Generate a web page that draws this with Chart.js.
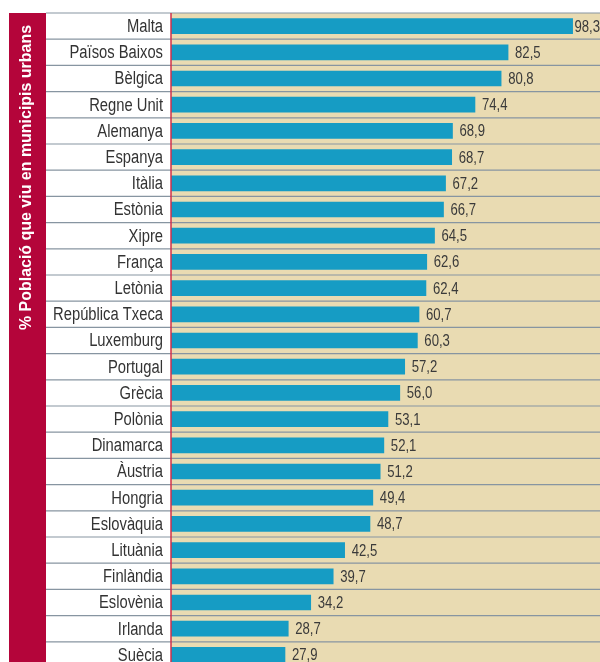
<!DOCTYPE html>
<html>
<head>
<meta charset="utf-8">
<script src="https://cdn.jsdelivr.net/npm/chart.js@4"></script>
<style>
  html, body { margin: 0; padding: 0; background: #fff; overflow: hidden; }
  canvas { display: block; }
</style>
</head>
<body>
<canvas id="urban-chart" width="600" height="670"></canvas>
<script>
// % població urbana per país
const countries = [
    'Malta', 'Països Baixos', 'Bèlgica', 'Regne Unit', 'Alemanya', 'Espanya',
    'Itàlia', 'Estònia', 'Xipre', 'França', 'Letònia', 'República Txeca',
    'Luxemburg', 'Portugal', 'Grècia', 'Polònia', 'Dinamarca', 'Àustria',
    'Hongria', 'Eslovàquia', 'Lituània', 'Finlàndia', 'Eslovènia', 'Irlanda', 'Suècia'
];
const urbanPct = [
    98.3, 82.5, 80.8, 74.4, 68.9, 68.7,
    67.2, 66.7, 64.5, 62.6, 62.4, 60.7,
    60.3, 57.2, 56.0, 53.1, 52.1, 51.2,
    49.4, 48.7, 42.5, 39.7, 34.2, 28.7, 27.9
];
const axisTitle = '% Població que viu en municipis urbans';

const sans = '"Liberation Sans", Arial, sans-serif';
const squeeze = 0.82; // no hi ha lletra estreta instal·lada, comprimim
const crimson = '#b4053a';

// text estret: escalat horitzontal
function narrowText(ctx, txt, x, y, align) {
    const w = ctx.measureText(txt).width * squeeze;
    let left = x;
    if (align === 'right') left = x - w;
    ctx.save();
    ctx.translate(left, y);
    ctx.scale(squeeze, 1);
    ctx.textAlign = 'left';
    ctx.fillText(txt, 0, 0);
    ctx.restore();
    return w;
}

const decorPlugin = {
    id: 'decor',
    beforeDraw(chart) {
        const {ctx, chartArea} = chart;
        ctx.save();
        ctx.fillStyle = '#e9dbb2';
        ctx.fillRect(chartArea.left, chartArea.top, chartArea.right - chartArea.left, chartArea.bottom - chartArea.top);
        ctx.fillStyle = crimson;
        ctx.fillRect(9, chartArea.top, 37, chart.height - chartArea.top);
        ctx.restore();
    },
    beforeDatasetsDraw(chart) {
        const {ctx, chartArea} = chart;
        const yScale = chart.scales.y;
        const n = chart.data.labels.length;
        const step = (chartArea.bottom - chartArea.top) / n;
        ctx.save();
        ctx.strokeStyle = '#8795a1';
        ctx.lineWidth = 1.2;
        for (let i = 0; i <= n; i++) {
            const y = chartArea.top + i * step;
            ctx.beginPath();
            ctx.moveTo(46, y);
            ctx.lineTo(chartArea.right, y);
            ctx.stroke();
        }
        // noms dels països
        ctx.font = '18px ' + sans;
        ctx.fillStyle = '#333';
        ctx.textBaseline = 'middle';
        chart.data.labels.forEach((lab, i) => {
            narrowText(ctx, lab, chartArea.left - 8, yScale.getPixelForTick(i) + 1, 'right');
        });
        ctx.restore();
    },
    afterDatasetsDraw(chart) {
        const {ctx, chartArea} = chart;
        const meta = chart.getDatasetMeta(0);
        ctx.save();
        // valors
        ctx.font = '16px ' + sans;
        ctx.fillStyle = '#3a3a3a';
        ctx.textBaseline = 'middle';
        meta.data.forEach((bar, i) => {
            const txt = chart.data.datasets[0].data[i].toFixed(1).replace('.', ',');
            const w = ctx.measureText(txt).width * squeeze;
            const x = Math.min(bar.x + 7, chartArea.right - w);
            narrowText(ctx, txt, x, bar.y + 1, 'left');
        });
        // línia vertical vermella
        ctx.strokeStyle = '#d0304a';
        ctx.lineWidth = 1.5;
        ctx.beginPath();
        ctx.moveTo(chartArea.left, chartArea.top);
        ctx.lineTo(chartArea.left, chart.height);
        ctx.stroke();
        // títol vertical
        ctx.translate(31, 177.5);
        ctx.rotate(-Math.PI / 2);
        ctx.font = 'bold 17px ' + sans;
        const tw = ctx.measureText(axisTitle).width;
        ctx.scale(305 / tw, 1);
        ctx.fillStyle = '#fff';
        ctx.textAlign = 'center';
        ctx.textBaseline = 'alphabetic';
        ctx.fillText(axisTitle, 0, 0);
        ctx.restore();
    }
};

new Chart(document.getElementById('urban-chart'), {
    type: 'bar',
    data: {
        labels: countries,
        datasets: [{
            data: urbanPct,
            backgroundColor: '#169cc4',
            barThickness: 15
        }]
    },
    options: {
        indexAxis: 'y',
        responsive: false,
        animation: false,
        devicePixelRatio: 1,
        layout: { padding: { top: 13, bottom: 2, left: 0, right: 0 } },
        plugins: {
            legend: { display: false },
            tooltip: { enabled: false }
        },
        scales: {
            x: { display: false, min: 0, max: 105 },
            y: {
                grid: { display: false, drawTicks: false },
                border: { display: false },
                ticks: { display: false },
                afterFit(scale) {
                    scale.width = 171;
                    scale.paddingTop = 0;
                    scale.paddingBottom = 0;
                }
            }
        }
    },
    plugins: [decorPlugin]
});
</script>
</body>
</html>
